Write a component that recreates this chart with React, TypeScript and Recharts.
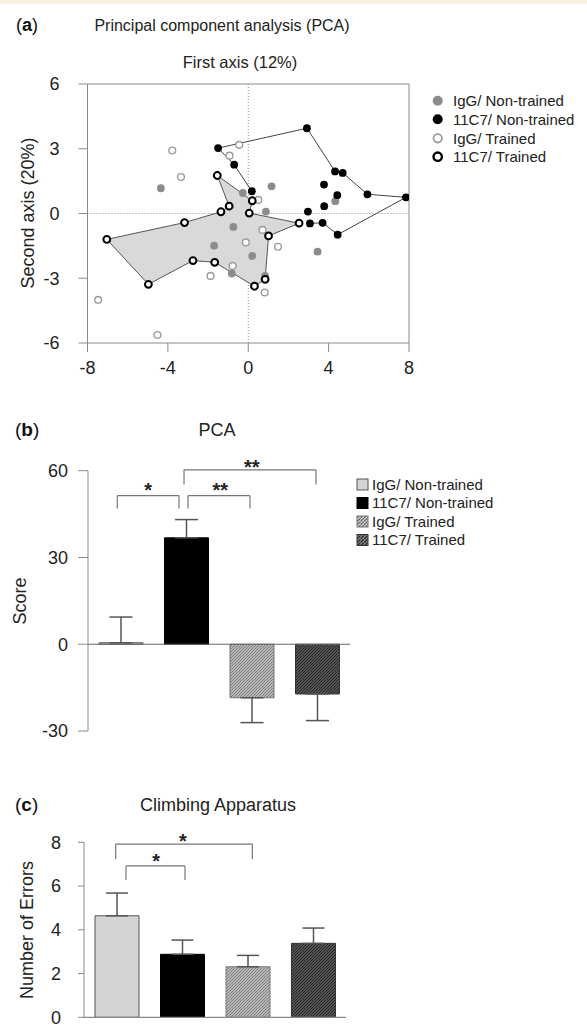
import React from 'react';
import {
  ScatterChart,
  Scatter,
  XAxis,
  YAxis,
  ReferenceLine,
  ReferenceDot,
  BarChart,
  Bar,
  Cell,
  ErrorBar,
} from 'recharts';

const FONT = '"Liberation Sans", Arial, Helvetica, sans-serif';

// ---------- Panel (a): PCA scores ----------
const igGNonTrained = [
  { x: -4.35, y: 1.17 },
  { x: -0.27, y: 0.95 },
  { x: 1.16, y: 1.26 },
  { x: 0.88, y: 0.09 },
  { x: -0.74, y: -0.62 },
  { x: -1.7, y: -1.49 },
  { x: 0.2, y: -1.97 },
  { x: -0.82, y: -2.78 },
  { x: 0.84, y: -2.89 },
  { x: 4.33, y: 0.57 },
  { x: 3.45, y: -1.77 },
];
const c11C7NonTrained = [
  { x: -1.5, y: 3.03 },
  { x: -0.7, y: 2.26 },
  { x: 0.18, y: 1.03 },
  { x: 2.92, y: 3.95 },
  { x: 4.32, y: 1.95 },
  { x: 4.7, y: 1.88 },
  { x: 5.93, y: 0.89 },
  { x: 7.85, y: 0.75 },
  { x: 4.43, y: 0.85 },
  { x: 3.77, y: 1.34 },
  { x: 3.78, y: 0.34 },
  { x: 2.97, y: 0.09 },
  { x: 3.07, y: -0.46 },
  { x: 3.7, y: -0.43 },
  { x: 4.45, y: -0.98 },
];
const igGTrained = [
  { x: -0.45, y: 3.18 },
  { x: -0.93, y: 2.68 },
  { x: -3.78, y: 2.92 },
  { x: -3.35, y: 1.69 },
  { x: 0.5, y: 0.63 },
  { x: 0.71, y: -0.76 },
  { x: -0.12, y: -1.34 },
  { x: 1.48, y: -1.54 },
  { x: -0.78, y: -2.43 },
  { x: -1.88, y: -2.89 },
  { x: 0.82, y: -3.66 },
  { x: -7.47, y: -4.0 },
  { x: -4.52, y: -5.63 },
];
const c11C7Trained = [
  { x: -1.54, y: 1.76 },
  { x: 0.2, y: 0.59 },
  { x: 0.05, y: 0.02 },
  { x: 2.53, y: -0.45 },
  { x: 1.01, y: -1.04 },
  { x: 0.84, y: -3.05 },
  { x: 0.31, y: -3.37 },
  { x: -1.67, y: -2.26 },
  { x: -2.75, y: -2.18 },
  { x: -4.97, y: -3.28 },
  { x: -7.04, y: -1.2 },
  { x: -3.17, y: -0.42 },
  { x: -1.36, y: 0.08 },
  { x: -0.95, y: 0.34 },
];
// outline orders (indices into the group arrays)
const hull11C7Trained = [0, 1, 2, 3, 4, 5, 6, 7, 8, 9, 10, 11, 12, 13];
const outline11C7NonTrained = [2, 1, 0, 3, 4, 5, 6, 7, 14, 13, 12];

const pcaXTicks = [-8, -4, 0, 4, 8];
const pcaYTicks = [-6, -3, 0, 3, 6];

// ---------- Panel (b): PCA score ----------
const groups = ['IgG/ Non-trained', '11C7/ Non-trained', 'IgG/ Trained', '11C7/ Trained'];
const pcaScore = [0.5, 36.8, -18.5, -17.2];
const pcaErrUp = [8.9, 6.3, 0, 0];
const pcaErrDown = [0, 0, 8.6, 9.2];
const pcaScoreTicks = [-30, 0, 30, 60];
const pcaBrackets = [
  { x1: 0.947, x2: 1.889, top: 51.4, bottom: 46.9, stars: '*', sx: 1.418, sy: 54.8 },
  { x1: 2.027, x2: 2.973, top: 51.4, bottom: 46.9, stars: '**', sx: 2.52, sy: 54.8 },
  { x1: 1.966, x2: 3.98, top: 60.3, bottom: 55.2, stars: '**', sx: 3.0, sy: 62.8 },
];

// ---------- Panel (c): Climbing apparatus ----------
const climbErrors = [4.64, 2.88, 2.31, 3.38];
const climbSem = [1.04, 0.65, 0.52, 0.7];
const climbTicks = [0, 2, 4, 6, 8];
const climbBrackets = [
  { x1: 1.141, x2: 2.042, top: 6.92, bottom: 6.28, stars: '*', sx: 1.6, sy: 7.32 },
  { x1: 0.984, x2: 3.07, top: 7.92, bottom: 7.24, stars: '*', sx: 2.01, sy: 8.26 },
];

// ---------- styles ----------
const barFills = ['#d4d4d4', '#000000', 'url(#texLight)', 'url(#texDark)'];
const barStrokes = ['#555555', '#000000', '#777777', '#333333'];
const legendFills = ['#d4d4d4', '#000000', 'url(#legLight)', 'url(#legDark)'];
const AXIS = '#8a8a8a';
const TICK = { fill: '#222', fontSize: 18, fontFamily: FONT };

const pcaData = groups.map((g, i) => ({
  group: g,
  pos: i + 1,
  score: pcaScore[i],
  err: [pcaErrDown[i], pcaErrUp[i]],
}));
const climbData = groups.map((g, i) => ({
  group: g,
  pos: i + 1,
  errors: climbErrors[i],
  err: [0, climbSem[i]],
}));

const pick = (arr: { x: number; y: number }[], idx: number[]) => idx.map((i) => arr[i]);

const noDot = () => <g />;
const dotGray = (p: any) => <circle cx={p.cx} cy={p.cy} r={3.9} fill="#8c8c8c" />;
const dotBlack = (p: any) => <circle cx={p.cx} cy={p.cy} r={3.9} fill="#000" />;
const dotOpenGray = (p: any) => (
  <circle cx={p.cx} cy={p.cy} r={3.4} fill="#fff" stroke="#9c9c9c" strokeWidth={1.4} />
);
const dotOpenBlack = (p: any) => (
  <circle cx={p.cx} cy={p.cy} r={3.4} fill="#fff" stroke="#000" strokeWidth={2} />
);
const hullShape = (p: any) => {
  const pts = p.points || [];
  if (!pts.length) return <g />;
  const d = 'M' + pts.map((q: any) => `${q.x},${q.y}`).join('L') + 'Z';
  return <path d={d} fill="#d9d9d9" stroke="#555" strokeWidth={1} />;
};
const starShape = (s: string) => (p: any) => (
  <text
    x={p.cx}
    y={p.cy + 11}
    textAnchor="middle"
    fontSize={20}
    fontWeight="bold"
    fill="#222"
    fontFamily={FONT}
  >
    {s}
  </text>
);

const bracketElems = (list: typeof pcaBrackets, prefix: string) =>
  list.flatMap((b, i) => [
    <ReferenceLine
      key={`${prefix}l${i}`}
      xAxisId="num"
      segment={[{ x: b.x1, y: b.bottom }, { x: b.x1, y: b.top }]}
      stroke="#777"
      strokeWidth={1.2}
      ifOverflow="visible"
    />,
    <ReferenceLine
      key={`${prefix}t${i}`}
      xAxisId="num"
      segment={[{ x: b.x1, y: b.top }, { x: b.x2, y: b.top }]}
      stroke="#777"
      strokeWidth={1.2}
      ifOverflow="visible"
    />,
    <ReferenceLine
      key={`${prefix}r${i}`}
      xAxisId="num"
      segment={[{ x: b.x2, y: b.top }, { x: b.x2, y: b.bottom }]}
      stroke="#777"
      strokeWidth={1.2}
      ifOverflow="visible"
    />,
    <ReferenceDot
      key={`${prefix}s${i}`}
      xAxisId="num"
      x={b.sx}
      y={b.sy}
      r={0}
      ifOverflow="visible"
      shape={starShape(b.stars)}
    />,
  ]);

const legendRowsA = [100.7, 119.3, 138.3, 156.7];
const legendRowsB = [484.5, 503, 521.5, 540];

function Overlay() {
  return (
    <svg
      width={587}
      height={1027}
      style={{ position: 'absolute', left: 0, top: 0 }}
      fontFamily={FONT}
    >
      <defs>
        <pattern id="texLight" width="3" height="3" patternUnits="userSpaceOnUse">
          <rect width="3" height="3" fill="#b8b8b8" />
          <path d="M0,3 L3,0" stroke="#7c7c7c" strokeWidth="1" />
        </pattern>
        <pattern id="texDark" width="3" height="3" patternUnits="userSpaceOnUse">
          <rect width="3" height="3" fill="#555" />
          <path d="M0,3 L3,0" stroke="#222" strokeWidth="1" />
        </pattern>
        <pattern id="legLight" width="3.5" height="3.5" patternUnits="userSpaceOnUse">
          <rect width="3.5" height="3.5" fill="#e0e0e0" />
          <path d="M0,3.5 L3.5,0" stroke="#444" strokeWidth="1.1" />
        </pattern>
        <pattern id="legDark" width="3.5" height="3.5" patternUnits="userSpaceOnUse">
          <rect width="3.5" height="3.5" fill="#9a9a9a" />
          <path d="M0,3.5 L3.5,0" stroke="#111" strokeWidth="1.3" />
        </pattern>
      </defs>
      <rect x={0} y={0} width={587} height={4} fill="#f6f1e2" />

      {/* Panel a texts */}
      <text x={16} y={31} fontSize={18} fill="#111">
        (<tspan fontWeight="bold">a</tspan>)
      </text>
      <text x={222} y={31} fontSize={16} fill="#222" textAnchor="middle">
        Principal component analysis (PCA)
      </text>
      <text x={240} y={68} fontSize={16.5} fill="#222" textAnchor="middle">
        First axis (12%)
      </text>
      <text
        x={34}
        y={213}
        fontSize={18}
        fill="#222"
        textAnchor="middle"
        transform="rotate(-90 34 213)"
      >
        Second axis (20%)
      </text>
      <circle cx={437.7} cy={legendRowsA[0]} r={5} fill="#8c8c8c" />
      <circle cx={437.7} cy={legendRowsA[1]} r={5} fill="#000" />
      <circle cx={437.7} cy={legendRowsA[2]} r={4.2} fill="#fff" stroke="#9c9c9c" strokeWidth={1.8} />
      <circle cx={437.7} cy={legendRowsA[3]} r={4.2} fill="#fff" stroke="#000" strokeWidth={2.4} />
      {groups.map((g, i) => (
        <text key={g} x={453} y={legendRowsA[i] + 5.4} fontSize={15} fill="#222">
          {g}
        </text>
      ))}

      {/* Panel b texts */}
      <text x={15} y={436} fontSize={19} fill="#111">
        (<tspan fontWeight="bold">b</tspan>)
      </text>
      <text x={217} y={436} fontSize={18} fill="#222" textAnchor="middle">
        PCA
      </text>
      <text
        x={26}
        y={601}
        fontSize={18}
        fill="#222"
        textAnchor="middle"
        transform="rotate(-90 26 601)"
      >
        Score
      </text>
      {groups.map((g, i) => (
        <g key={g}>
          <rect
            x={357}
            y={legendRowsB[i] - 5.5}
            width={11}
            height={11}
            fill={legendFills[i]}
            stroke={barStrokes[i]}
            strokeWidth={1}
          />
          <text x={372} y={legendRowsB[i] + 5.4} fontSize={15} fill="#222">
            {g}
          </text>
        </g>
      ))}

      {/* Panel c texts */}
      <text x={15} y={811} fontSize={19} fill="#111">
        (<tspan fontWeight="bold">c</tspan>)
      </text>
      <text x={218} y={811} fontSize={18} fill="#222" textAnchor="middle">
        Climbing Apparatus
      </text>
      <text
        x={33}
        y={930}
        fontSize={18}
        fill="#222"
        textAnchor="middle"
        transform="rotate(-90 33 930)"
      >
        Number of Errors
      </text>
    </svg>
  );
}

function PanelA() {
  return (
    <div style={{ position: 'absolute', left: 0, top: 0 }}>
      <ScatterChart width={587} height={400} margin={{ top: 84, right: 178, bottom: 0, left: 0 }}>
        <XAxis
          type="number"
          dataKey="x"
          domain={[-8, 8]}
          ticks={pcaXTicks}
          interval={0}
          allowDataOverflow
          height={57}
          tickSize={9}
          tickMargin={9}
          stroke={AXIS}
          tick={TICK}
        />
        <YAxis
          type="number"
          dataKey="y"
          domain={[-6, 6]}
          ticks={pcaYTicks}
          interval={0}
          allowDataOverflow
          width={87.5}
          tickSize={9}
          tickMargin={19}
          stroke={AXIS}
          tick={TICK}
        />
        <Scatter
          data={pick(c11C7Trained, hull11C7Trained)}
          shape={noDot}
          line={hullShape}
          isAnimationActive={false}
        />
        <ReferenceLine x={0} stroke="#8a8a8a" strokeDasharray="1 2" />
        <ReferenceLine y={0} stroke="#8a8a8a" strokeDasharray="1 2" />
        <ReferenceLine y={6} stroke={AXIS} />
        <ReferenceLine x={8} stroke={AXIS} />
        <Scatter
          data={pick(c11C7NonTrained, outline11C7NonTrained)}
          shape={noDot}
          line={{ stroke: '#444', strokeWidth: 1 }}
          lineType="joint"
          isAnimationActive={false}
        />
        <Scatter data={igGNonTrained} shape={dotGray} isAnimationActive={false} />
        <Scatter data={igGTrained} shape={dotOpenGray} isAnimationActive={false} />
        <Scatter data={c11C7NonTrained} shape={dotBlack} isAnimationActive={false} />
        <Scatter data={c11C7Trained} shape={dotOpenBlack} isAnimationActive={false} />
      </ScatterChart>
    </div>
  );
}

function PanelB() {
  return (
    <div style={{ position: 'absolute', left: 0, top: 400 }}>
      <BarChart
        width={587}
        height={360}
        data={pcaData}
        margin={{ top: 70.7, right: 237, bottom: 29, left: 0 }}
        barSize={44}
      >
        <XAxis xAxisId="cat" dataKey="group" hide />
        <XAxis xAxisId="num" type="number" dataKey="pos" domain={[0.5, 4.5]} allowDataOverflow hide />
        <YAxis
          domain={[-30, 60]}
          ticks={pcaScoreTicks}
          interval={0}
          allowDataOverflow
          width={88}
          tickSize={10}
          tickMargin={10}
          stroke={AXIS}
          tick={TICK}
        />
        <ReferenceLine xAxisId="num" y={0} stroke="#666" strokeWidth={1.2} />
        <Bar xAxisId="cat" dataKey="score" isAnimationActive={false}>
          {pcaData.map((d, i) => (
            <Cell key={d.group} fill={barFills[i]} stroke={barStrokes[i]} strokeWidth={1} />
          ))}
          <ErrorBar dataKey="err" width={11.5} stroke="#555" strokeWidth={1.5} direction="y" />
        </Bar>
        {bracketElems(pcaBrackets, 'b')}
      </BarChart>
    </div>
  );
}

function PanelC() {
  return (
    <div style={{ position: 'absolute', left: 0, top: 780 }}>
      <BarChart
        width={587}
        height={247}
        data={climbData}
        margin={{ top: 62.3, right: 241, bottom: 9.7, left: 0 }}
        barSize={44}
      >
        <XAxis xAxisId="cat" dataKey="group" hide />
        <XAxis xAxisId="num" type="number" dataKey="pos" domain={[0.5, 4.5]} allowDataOverflow hide />
        <YAxis
          domain={[0, 8]}
          ticks={climbTicks}
          interval={0}
          allowDataOverflow
          width={84}
          tickSize={6}
          tickMargin={17}
          stroke={AXIS}
          tick={TICK}
        />
        <ReferenceLine xAxisId="num" y={0} stroke={AXIS} strokeWidth={1.2} />
        <Bar xAxisId="cat" dataKey="errors" isAnimationActive={false}>
          {climbData.map((d, i) => (
            <Cell key={d.group} fill={barFills[i]} stroke={barStrokes[i]} strokeWidth={1} />
          ))}
          <ErrorBar dataKey="err" width={11} stroke="#555" strokeWidth={1.5} direction="y" />
        </Bar>
        {bracketElems(climbBrackets, 'c')}
      </BarChart>
    </div>
  );
}

export default function App() {
  return (
    <div
      style={{
        position: 'absolute',
        left: 0,
        top: 0,
        width: 587,
        height: 1027,
        background: '#fff',
        fontFamily: FONT,
        overflow: 'hidden',
      }}
    >
      <Overlay />
      <PanelA />
      <PanelB />
      <PanelC />
    </div>
  );
}
